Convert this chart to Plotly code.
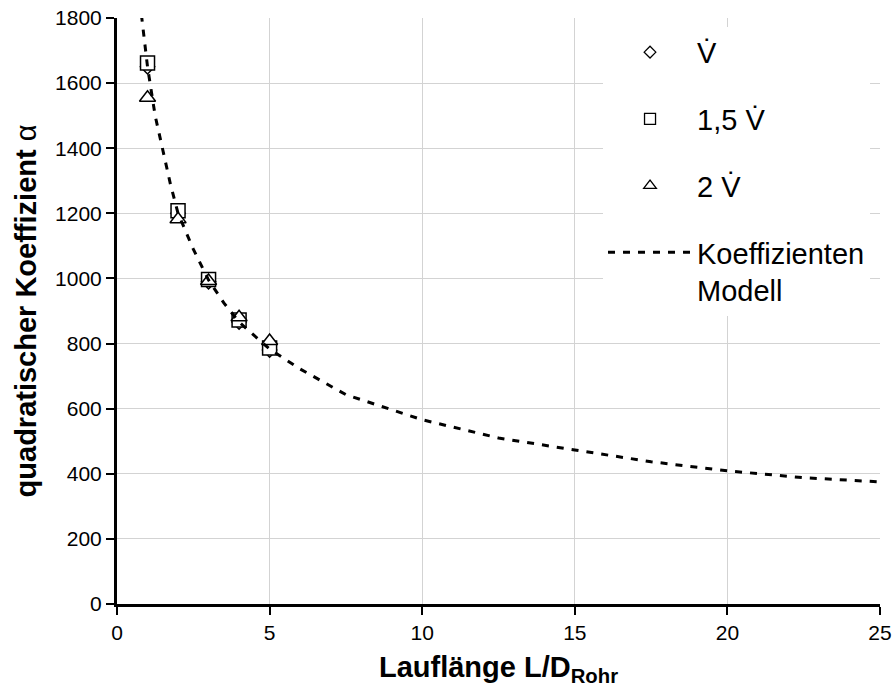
import plotly.graph_objects as go

# Measurement points (L/D) and coefficients
x_meas = [1, 2, 3, 4, 5]
y_v = [1650, 1200, 990, 866, 780]
y_15v = [1662, 1208, 997, 872, 786]
y_2v = [1555, 1182, 992, 881, 808]

# Model curve
x_model = [0.8, 1, 1.25, 1.5, 1.75, 2, 2.5, 3, 3.5, 4, 5, 6, 7.5, 10, 12.5, 15, 17.5, 20, 22.5, 25]
y_model = [1810, 1650, 1500, 1395, 1290, 1200, 1090, 995, 925, 866, 783, 722, 643, 566, 510, 473, 437, 409, 388, 375]

x_ticks = [0, 5, 10, 15, 20, 25]
y_ticks = [0, 200, 400, 600, 800, 1000, 1200, 1400, 1600, 1800]

VDOT = "V\u0307"
names = [VDOT, "1,5 " + VDOT, "2 " + VDOT, "Koeffizienten<br>Modell"]

FONT = "Liberation Sans, Arial, sans-serif"

fig = go.Figure()

series = [
    (y_v, "diamond", 11, 9),
    (y_15v, "square", 14, 11),
    (y_2v, "triangle-up", 14, 11),
]
for (ys, sym, size, _lsz) in series:
    fig.add_trace(go.Scatter(
        x=x_meas, y=ys, mode="markers", showlegend=False,
        marker=dict(symbol=sym, size=size, color="white",
                    line=dict(color="black", width=1.5)),
    ))

fig.add_trace(go.Scatter(
    x=x_model, y=y_model, mode="lines", showlegend=False,
    line=dict(color="black", width=3, dash="7px,8px"),
))

# legend entries
for i, (ys, sym, size, lsz) in enumerate(series):
    fig.add_trace(go.Scatter(
        x=[None], y=[None], mode="markers", name=names[i], legendgroup=f"g{i}",
        marker=dict(symbol=sym, size=lsz, color="white",
                    line=dict(color="black", width=1.3)),
    ))
fig.add_trace(go.Scatter(
    x=[None], y=[None], mode="lines", name=names[3], legendgroup="g3",
    line=dict(color="black", width=3, dash="7px,8px"),
))

fig.update_layout(
    width=893, height=696,
    margin=dict(l=117, r=13, t=18, b=92),
    paper_bgcolor="white", plot_bgcolor="white",
    font=dict(family=FONT, color="black", size=21),
    legend=dict(
        x=0.637, y=0.985, xanchor="left", yanchor="top",
        bgcolor="white", borderwidth=0,
        font=dict(size=29, family=FONT),
        tracegroupgap=26, valign="top",
        itemwidth=84,
    ),
    xaxis=dict(
        range=[0, 25], tickvals=x_ticks, automargin=False,
        showgrid=True, gridcolor="#d3d3d3", gridwidth=1,
        showline=True, linecolor="black", linewidth=3,
        ticks="outside", ticklen=8, tickwidth=2, tickcolor="black",
        zeroline=False, mirror=False,
        tickfont=dict(size=21),
        title=dict(text="<b>Lauflänge L/D<sub>Rohr</sub></b>", font=dict(size=29), standoff=14),
    ),
    yaxis=dict(
        range=[0, 1800], tickvals=y_ticks, automargin=False,
        showgrid=True, gridcolor="#d3d3d3", gridwidth=1,
        showline=True, linecolor="black", linewidth=3,
        ticks="outside", ticklen=8, tickwidth=2, tickcolor="black",
        zeroline=False,
        tickfont=dict(size=21),
        title=dict(text="<b>quadratischer Koeffizient</b> α", font=dict(size=29), standoff=10),
    ),
)

fig.write_html("out.html")
